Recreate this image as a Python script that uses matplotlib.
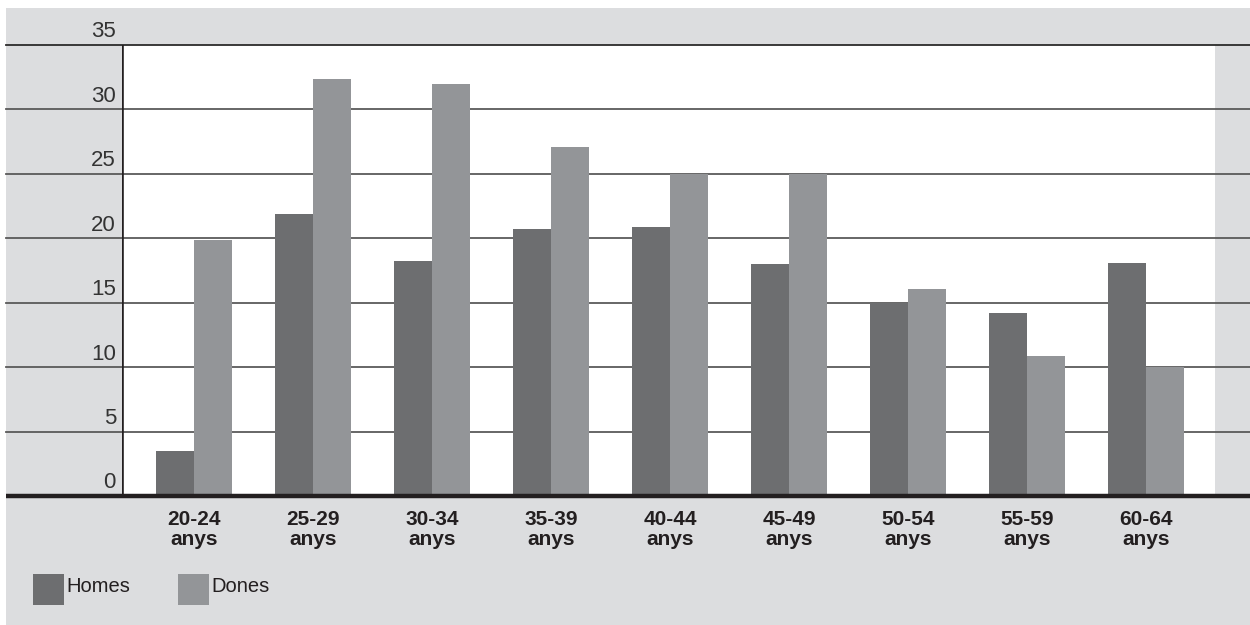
import matplotlib
matplotlib.use('Agg')
import matplotlib.pyplot as plt
import matplotlib.transforms as mtransforms
from matplotlib.patches import Rectangle
import numpy as np

plt.rcParams['font.family'] = ['Liberation Sans', 'DejaVu Sans']

# Dades
grups = ["20-24\nanys", "25-29\nanys", "30-34\nanys", "35-39\nanys", "40-44\nanys",
         "45-49\nanys", "50-54\nanys", "55-59\nanys", "60-64\nanys"]
homes = [3.5, 21.9, 18.2, 20.7, 20.9, 18.0, 15.0, 14.2, 18.1]
dones = [19.9, 32.4, 32.0, 27.1, 25.0, 25.0, 16.1, 10.9, 10.0]
ticks_y = [0, 5, 10, 15, 20, 25, 30, 35]

color_homes = '#6d6e70'
color_dones = '#939598'
fons = '#dcdddf'

fig = plt.figure(figsize=(12.5, 6.25), dpi=100)
fig.patch.set_facecolor('white')
fig.patches.append(Rectangle((6 / 1250, 0), 1, (625 - 8) / 625, transform=fig.transFigure,
                             facecolor=fons, edgecolor='none', zorder=-10))

ax = fig.add_axes([122 / 1250, (625 - 496) / 625, (1215 - 122) / 1250, (496 - 45) / 625])
ax.set_facecolor('white')

x = np.arange(len(grups))
w = 0.32
ax.bar(x - w / 2, homes, width=w, color=color_homes, zorder=3)
ax.bar(x + w / 2, dones, width=w, color=color_dones, zorder=3)

ax.set_xlim(-0.605, 8.58)
ax.set_ylim(0, 35)

# línies horitzontals que surten fora de l'àrea del gràfic
trans = mtransforms.blended_transform_factory(fig.transFigure, ax.transData)
for v in ticks_y[1:]:
    col = '#2b2b2b' if v == 35 else '#5a5a5a'
    ax.plot([6 / 1250, 1], [v, v], transform=trans, color=col, lw=1.3,
            clip_on=False, zorder=1)
for v in ticks_y:
    ax.text(116 / 1250, v + 0.2, str(v), transform=trans, ha='right', va='bottom',
            fontsize=16, color='#333333')

# eix inferior i eix esquerre
ax.plot([6 / 1250, 1], [0, 0], transform=trans, color='#231f20', lw=3.2,
        clip_on=False, zorder=5, solid_capstyle='butt')
ax.axvline(-0.605, color='#231f20', lw=2.6, zorder=5)

for s in ax.spines.values():
    s.set_visible(False)
ax.set_yticks([])
ax.set_xticks(x)
ax.set_xticklabels(grups, fontsize=15, fontweight='bold', color='#231f20', linespacing=1.1)
ax.tick_params(axis='x', length=0, pad=10)

# llegenda
fig.patches.append(Rectangle((33 / 1250, (625 - 605) / 625), 31 / 1250, 31 / 625,
                             transform=fig.transFigure, facecolor=color_homes, edgecolor='none'))
fig.text(66 / 1250, (625 - 587) / 625, 'Homes', fontsize=14.5, va='center', color='#231f20')
fig.patches.append(Rectangle((178 / 1250, (625 - 605) / 625), 31 / 1250, 31 / 625,
                             transform=fig.transFigure, facecolor=color_dones, edgecolor='none'))
fig.text(211 / 1250, (625 - 587) / 625, 'Dones', fontsize=14.5, va='center', color='#231f20')

fig.savefig('out.png', dpi=100, facecolor=fig.get_facecolor())
